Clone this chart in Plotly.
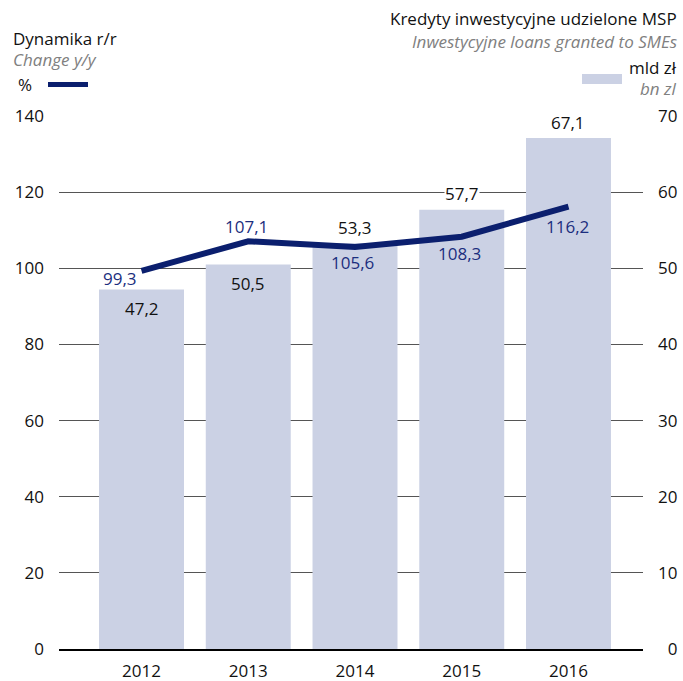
import plotly.graph_objects as go

# ---- data ----
years = ["2012", "2013", "2014", "2015", "2016"]
loans_bn = [47.2, 50.5, 53.3, 57.7, 67.1]          # right axis, bars (bn zl)
change_pct = [99.3, 107.1, 105.6, 108.3, 116.2]    # left axis, line (%)
bar_labels = ["47,2", "50,5", "53,3", "57,7", "67,1"]
line_labels = ["99,3", "107,1", "105,6", "108,3", "116,2"]
left_ticks = [0, 20, 40, 60, 80, 100, 120, 140]
right_ticks = [0, 10, 20, 30, 40, 50, 60, 70]

# ---- styles ----
FONT = "Open Sans"
BAR_COLOR = "#cbd1e4"
LINE_COLOR = "#0b1f6e"
LABEL_NAVY = "#1b2e7e"
GRAY = "#808080"
FS = 17

W, H = 683, 681
L, R, T, B = 59, 40, 116, 32
PW, PH = W - L - R, H - T - B

bar_label_inside = [True, True, False, False, False]
line_label_shift = [(-22, -8), (-2, 15), (-3, -16), (-2, -17), (-1, -20)]

xpos = list(range(len(years)))


def px(x):
    return (x - L) / PW


def py(y):
    return (H - B - y) / PH


fig = go.Figure()
fig.add_trace(go.Bar(
    x=xpos, y=loans_bn, marker=dict(color=BAR_COLOR, line=dict(width=0)),
    yaxis="y", hoverinfo="skip", showlegend=False,
))
fig.add_trace(go.Scatter(
    x=xpos, y=change_pct, mode="lines", yaxis="y2",
    line=dict(color=LINE_COLOR, width=6), hoverinfo="skip", showlegend=False,
))

ann = []
for xi, v, t, inside in zip(xpos, loans_bn, bar_labels, bar_label_inside):
    ann.append(dict(
        x=xi, y=v, xref="x", yref="y", text=t, showarrow=False,
        yanchor="middle", yshift=-19 if inside else 16,
        font=dict(family=FONT, size=FS, color="#111111"),
        bgcolor="rgba(0,0,0,0)" if inside else "white", borderpad=0,
    ))
for xi, v, t, (dx, dy) in zip(xpos, change_pct, line_labels, line_label_shift):
    ann.append(dict(
        x=xi, y=v, xref="x", yref="y2", text=t, showarrow=False,
        yanchor="middle", xshift=dx, yshift=dy,
        font=dict(family=FONT, size=FS, color=LABEL_NAVY),
    ))

# header texts
hdr = [
    dict(x=px(12), y=py(38), text="Dynamika r/r", xanchor="left",
         font=dict(family=FONT, size=FS, color="#111111")),
    dict(x=px(12), y=py(59), text="<i>Change y/y</i>", xanchor="left",
         font=dict(family=FONT, size=FS, color=GRAY)),
    dict(x=px(17), y=py(85), text="%", xanchor="left",
         font=dict(family=FONT, size=FS, color="#111111")),
    dict(x=px(678), y=py(19), text="Kredyty inwestycyjne udzielone MSP", xanchor="right",
         font=dict(family=FONT, size=FS, color="#111111")),
    dict(x=px(678), y=py(41), text="<i>Inwestycyjne loans granted to SMEs</i>", xanchor="right",
         font=dict(family=FONT, size=FS, color=GRAY)),
    dict(x=px(678), y=py(67), text="mld zł", xanchor="right",
         font=dict(family=FONT, size=FS, color="#111111")),
    dict(x=px(678), y=py(88), text="<i>bn zl</i>", xanchor="right",
         font=dict(family=FONT, size=FS, color=GRAY)),
]
for a in hdr:
    a.update(xref="paper", yref="paper", showarrow=False, yanchor="middle", borderpad=0)
ann += hdr

shapes = [
    dict(type="line", xref="paper", yref="paper", x0=px(48), x1=px(88), y0=py(84.5), y1=py(84.5),
         line=dict(color=LINE_COLOR, width=5)),
    dict(type="rect", xref="paper", yref="paper", x0=px(582), x1=px(622), y0=py(84), y1=py(74),
         fillcolor=BAR_COLOR, line=dict(width=0)),
]

fs = "\u2007"
right_text = [(fs * (2 - len(str(v)))) + str(v) for v in right_ticks]

fig.update_layout(
    width=W, height=H,
    margin=dict(l=L, r=R, t=T, b=B, pad=0, autoexpand=False),
    paper_bgcolor="white", plot_bgcolor="white",
    font=dict(family=FONT, size=FS, color="#111111"),
    bargap=0.204,
    xaxis=dict(
        range=[-0.773, 4.698], tickvals=xpos, ticktext=years,
        showgrid=False, zeroline=False, automargin=False,
        showline=True, linecolor="#000000", linewidth=2, ticks="", ticklabelstandoff=6,
        tickfont=dict(family=FONT, size=FS, color="#111111"),
    ),
    yaxis=dict(
        side="right", range=[0, 70], tickvals=right_ticks, ticktext=right_text,
        showgrid=True, gridcolor="#555555", gridwidth=1, zeroline=False, automargin=False,
        showline=False, ticks="", ticklabelstandoff=14,
        tickfont=dict(family=FONT, size=FS, color="#111111"),
    ),
    yaxis2=dict(
        side="left", overlaying="y", range=[0, 140], tickvals=left_ticks, automargin=False,
        showgrid=False, zeroline=False, showline=False, ticks="", ticklabelstandoff=14,
        tickfont=dict(family=FONT, size=FS, color="#111111"),
    ),
    annotations=ann,
    shapes=shapes,
    showlegend=False,
)

fig.write_html("out.html", config={"displayModeBar": False},
               post_script="document.body.style.margin='0';")
